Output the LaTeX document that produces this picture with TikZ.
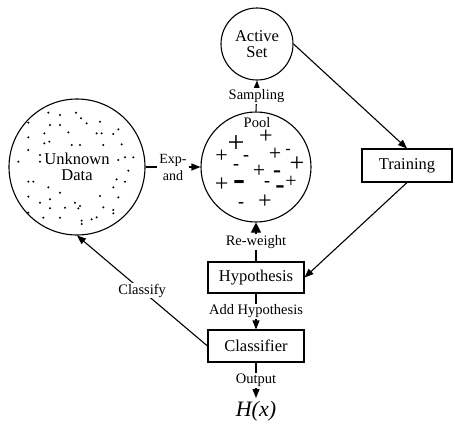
\documentclass[tikz,border=0pt]{standalone}
\usepackage{fontspec}
\setmainfont{Liberation Serif}
\usetikzlibrary{arrows.meta}
\tikzset{
  base/.style={line width=1.1pt},
  arr/.style={base,-{Triangle[length=9pt,width=7pt]}},
  bigarr/.style={base,-{Triangle[length=10pt,width=10pt]}},
  circ/.style={draw,circle,base,inner sep=0pt,align=center,font=\fontsize{16.5}{18}\selectfont},
  boxnode/.style={draw,rectangle,base,minimum width=96pt,minimum height=32pt,inner sep=0pt,font=\fontsize{16.5}{18}\selectfont},
  lab/.style={fill=white,inner sep=1pt,font=\fontsize{14.5}{15}\selectfont},
  sym/.style={inner sep=0pt},
  pl/.style={sym,font=\fontsize{#1}{#1}\selectfont},
  mi/.style={sym,font=\fontsize{#1}{#1}\selectfont\bfseries},
  dot/.style={fill=black}
}
\begin{document}
\begin{tikzpicture}[x=1pt,y=-1pt]
\useasboundingbox (0,0) rectangle (455,423);
% nodes
\node[circ,minimum size=72pt] (act) at (257,44) {Active\\[-2pt]Set};
\node[circ,minimum size=110pt] (pool) at (256,167) {};
\node[font=\fontsize{14.5}{15}\selectfont,inner sep=0pt] (poollab) at (257,123) {Pool};
\node[circ,minimum size=136pt] (unk) at (77,167) {Unknown\\[-2pt]Data};
\node[boxnode,minimum width=90pt,minimum height=33pt] (train) at (407,165.5) {Training};
\node[boxnode,minimum height=31pt] (hyp) at (256,277.5) {Hypothesis};
\node[boxnode] (cls) at (256,346) {Classifier};
\node[inner sep=0pt,font=\fontsize{22}{24}\selectfont\itshape] (hx) at (256,411) {H(x)};
\coordinate (hxtop) at (256,398);
% connectors
\draw[arr] (pool.north) -- node[lab] {Sampling} (act.south);
\draw[arr] (act.east) -- (train.north);
\draw[arr] (train.south) -- (hyp.east);
\draw[bigarr] (hyp.north) -- node[lab] {Re-weight} (pool.south);
\draw[arr] (hyp.south) -- node[lab] {Add Hypothesis} (cls.north);
\draw[arr] (cls.south) -- node[lab] {Output} (hxtop);
\draw[arr] (cls.west) -- node[lab] {Classify} (unk.south);
\draw[arr] (unk.east) -- node[lab,align=center,font=\fontsize{14}{17}\selectfont,inner sep=2pt] {Exp-\\and} (pool.west);
% pool symbols
\node[pl=30] (s1) at (236,144) {+};
\node[pl=24] (s2) at (266,137) {+};
\node[pl=22] (s3) at (221.7,156) {+};
\node[mi=18] (s4) at (246,158) {-};
\node[pl=22] (s5) at (275,154) {+};
\node[mi=15] (s6) at (288,151) {-};
\node[mi=18] (s7) at (236,167) {-};
\node[pl=22] (s8) at (259,171) {+};
\node[mi=24] (s9) at (277,174) {-};
\node[pl=26] (s10) at (297,164) {+};
\node[pl=24] (s11) at (221.7,185) {+};
\node[mi=36] (s12) at (239,185) {-};
\node[mi=18] (s13) at (267,184) {-};
\node[pl=20] (s14) at (291,182) {+};
\node[mi=28] (s15) at (280,190) {-};
\node[mi=18] (s16) at (241,205) {-};
\node[pl=24] (s17) at (265,202) {+};
% dots in unknown data
\begin{scope}[shift={(0,80)},scale=1/3]
\foreach \p in {(145,98),(180,105),(228,98),(243,115),(260,130),(300,125),
(85,128),(150,135),(180,135),
(355,148),(133,160),(205,157),(290,160),(305,160),(340,162),
(85,172),(148,185),(133,190),(215,195),(240,195),(310,195),(365,193),
(85,210),(120,225),(120,245),(55,245),(355,240),(375,232),(400,232),
(385,272),(350,298),(375,305),(340,322),(85,305),(100,305),(145,322),(180,338),
(300,348),(355,352),(85,350),(120,368),(150,358),(225,368),(240,378),(235,385),(150,385),(195,383),(310,382),(340,390),(340,400),(85,398),(130,413),(180,413),(245,422),(245,432),(275,418),(290,412)}
  \fill[dot] \p circle[radius=3.4];
\end{scope}
\end{tikzpicture}
\end{document}
